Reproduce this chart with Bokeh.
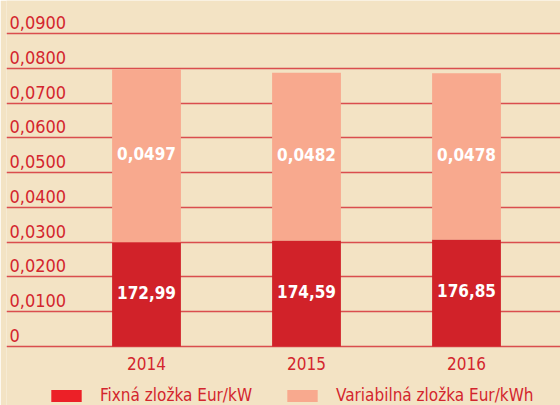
from bokeh.plotting import figure
from bokeh.models import ColumnDataSource, Range1d, FixedTicker, Legend, LegendItem
from bokeh.core.properties import value
from bokeh.embed import file_html
from bokeh.resources import INLINE

years = ["2014", "2015", "2016"]
fixed_eur_kw = [172.99, 174.59, 176.85]
fixed_bar_height = [0.0300, 0.0305, 0.0308]
variable_eur_kwh = [0.0497, 0.0482, 0.0478]
y_ticks = [0.0, 0.01, 0.02, 0.03, 0.04, 0.05, 0.06, 0.07, 0.08, 0.09]
y_tick_labels = ["0", "0,0100", "0,0200", "0,0300", "0,0400", "0,0500",
                 "0,0600", "0,0700", "0,0800", "0,0900"]
series_names = ["Fixná zložka Eur/kW", "Variabilná zložka Eur/kWh"]

FONT = "DejaVu Sans Condensed"
RED_TXT = "#d3262e"
BAR_RED = "#d12229"
SALMON = "#f8a98e"
LEG_RED = "#ec2027"
BG = "#f3e3c4"

xs = list(range(len(years)))
src = ColumnDataSource(dict(
    x=xs,
    fixed=fixed_bar_height,
    var=variable_eur_kwh,
    fixed_mid=[f / 2 for f in fixed_bar_height],
    var_mid=[f + v / 2 for f, v in zip(fixed_bar_height, variable_eur_kwh)],
    fixed_lbl=[f"{v:.2f}".replace(".", ",") for v in fixed_eur_kw],
    var_lbl=[f"{v:.4f}".replace(".", ",") for v in variable_eur_kwh],
    year=years,
    base=[0.0] * len(years),
))

x_start, x_end = -0.875, 2.5875
p = figure(width=560, height=405, frame_width=554, frame_height=405,
           output_backend="svg", toolbar_location=None,
           x_range=Range1d(x_start, x_end), y_range=Range1d(-0.016965, 0.09949),
           x_axis_location=None, y_axis_location=None,
           min_border_left=6, min_border_right=0, min_border_top=0, min_border_bottom=0)
p.background_fill_color = BG
p.border_fill_color = BG
p.outline_line_color = None

p.xgrid.visible = False
p.ygrid.ticker = FixedTicker(ticks=y_ticks)
p.ygrid.grid_line_color = "#d5323a"
p.ygrid.grid_line_width = 1.5
p.ygrid.grid_line_alpha = 0.85

p.vbar_stack(["fixed", "var"], x="x", width=0.43, color=[BAR_RED, SALMON],
             line_color=None, source=src)

p.text(x="x", y="fixed_mid", text="fixed_lbl", source=src, text_align="center",
       text_baseline="middle", y_offset=-2, text_color="white", text_font=value(FONT),
       text_font_size="17px", text_font_style="bold")
p.text(x="x", y="var_mid", text="var_lbl", source=src, text_align="center",
       text_baseline="middle", y_offset=-2, text_color="white", text_font=value(FONT),
       text_font_size="17px", text_font_style="bold")

# y tick labels sitting above each grid line
tick_src = ColumnDataSource(dict(y=y_ticks, t=y_tick_labels, x=[x_start] * len(y_ticks)))
p.text(x="x", y="y", text="t", source=tick_src, x_offset=3, y_offset=-11,
       text_align="left", text_baseline="middle", text_color=RED_TXT,
       text_font=value(FONT), text_font_size="18px")

# category labels under the bars
p.text(x="x", y="base", text="year", source=src, y_offset=17,
       text_align="center", text_baseline="middle", text_color=RED_TXT,
       text_font=value(FONT), text_font_size="17px")

# zero-height proxies that only provide the legend swatches
r1 = p.vbar(x="x", top="base", bottom="base", width=0.43, fill_color=LEG_RED,
            line_color=None, source=src)
r2 = p.vbar(x="x", top="base", bottom="base", width=0.43, fill_color=SALMON,
            line_color=None, source=src)
legend = Legend(items=[LegendItem(label=series_names[0], renderers=[r1]),
                       LegendItem(label=series_names[1], renderers=[r2])],
                orientation="horizontal", location=(41, 0),
                glyph_width=38, glyph_height=15, label_height=15, label_standoff=15,
                spacing=31, padding=0, margin=0,
                label_text_font=FONT, label_text_font_size="17px",
                label_text_color=RED_TXT, background_fill_alpha=0, border_line_color=None)
p.add_layout(legend)

open("out.html", "w").write(file_html(p, INLINE))
